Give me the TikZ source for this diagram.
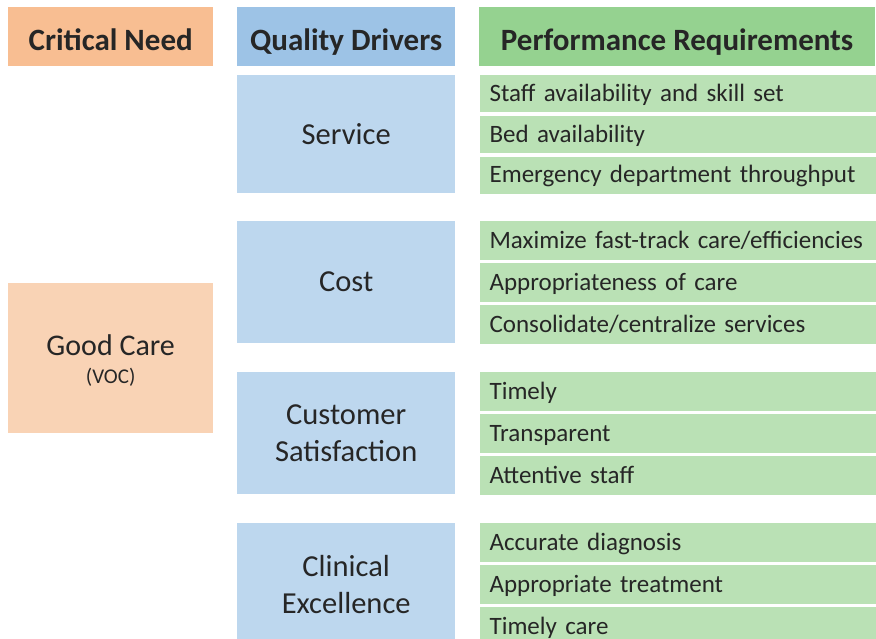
\documentclass[tikz,border=0pt]{standalone}
\usepackage{fontspec}
\setmainfont{Carlito}
\usetikzlibrary{positioning}
\definecolor{needhead}{RGB}{248, 190, 146}
\definecolor{needbox}{RGB}{249, 211, 181}
\definecolor{drivehead}{RGB}{157, 195, 230}
\definecolor{drivebox}{RGB}{189, 215, 238}
\definecolor{reqhead}{RGB}{149, 210, 144}
\definecolor{reqbox}{RGB}{186, 225, 181}
\definecolor{inktext}{RGB}{38, 38, 38}

\tikzset{
  head/.style={inner sep=0pt, text=inktext, font=\fontsize{31}{36}\selectfont\bfseries, anchor=north west,
               text height=28pt, text depth=0pt},
  driver/.style={fill=drivebox, inner sep=0pt, minimum width=218pt, text=inktext, align=center,
                 font=\fontsize{30.5}{37}\selectfont, anchor=north west},
  req/.style={fill=reqbox, inner xsep=10pt, inner ysep=0pt, minimum width=396pt, text width=376pt, text=inktext,
              font=\fontsize{25}{30}\selectfont, align=left, text height=19pt, text depth=4pt},
}

\begin{document}
\begin{tikzpicture}[x=1pt, y=-1pt]
            % Frame to fix the page
            \useasboundingbox (0, 0) rectangle (876, 639);
            % Headers
            \node[head, fill=needhead,  minimum width=205pt, minimum height=59pt] (need)  at (8, 7)   {Critical Need};
            \node[head, fill=drivehead, minimum width=218pt, minimum height=59pt] (drive) at (237, 7) {Quality Drivers};
            \node[head, fill=reqhead,   minimum width=396pt, minimum height=59pt] (perf)  at (479, 7) {Performance Requirements};
            % Critical need
            \node[fill=needbox, inner sep=0pt, minimum width=205pt, minimum height=150pt, anchor=north west,
                  text=inktext, align=center, font=\fontsize{30}{32}\selectfont] (good) at (8, 283)
                 {\rule{0pt}{26pt}Good Care\\[-4pt]{\fontsize{21}{28}\selectfont (VOC)}};
            % Quality drivers
            \node[driver, minimum height=118pt] (service)  at (237, 75)  {Service};
            \node[driver, minimum height=122pt] (cost)     at (237, 221) {Cost};
            \node[driver, minimum height=122pt] (customer) at (237, 372) {Customer\\Satisfaction};
            \node[driver, minimum height=122pt] (clinical) at (237, 523) {Clinical\\Excellence};
            % Performance requirements: Service
            \node[req, minimum height=37.3pt, anchor=north west] (staff) at ([xshift=24pt]service.north east) {Staff availability and skill set};
            \node[req, minimum height=37.3pt, below=3pt of staff] (bed)  {Bed availability};
            \node[req, minimum height=37.3pt, below=3pt of bed]   (emerg) {Emergency department throughput};
            % Cost
            \node[req, minimum height=38.7pt, anchor=north west] (fast) at ([xshift=24pt]cost.north east) {Maximize fast-track care/efficiencies};
            \node[req, minimum height=38.7pt, below=3pt of fast]  (approp) {Appropriateness of care};
            \node[req, minimum height=38.7pt, below=3pt of approp] (consol) {Consolidate/centralize services};
            % Customer satisfaction
            \node[req, minimum height=38.7pt, anchor=north west] (timely) at ([xshift=24pt]customer.north east) {Timely};
            \node[req, minimum height=38.7pt, below=3pt of timely] (transp) {Transparent};
            \node[req, minimum height=38.7pt, below=3pt of transp] (attent) {Attentive staff};
            % Clinical excellence
            \node[req, minimum height=38.7pt, anchor=north west] (diag) at ([xshift=24pt]clinical.north east) {Accurate diagnosis};
            \node[req, minimum height=38.7pt, below=3pt of diag]  (treat) {Appropriate treatment};
            \node[req, minimum height=38.7pt, below=3pt of treat] (tcare) {Timely care};
        \end{tikzpicture}
\end{document}
